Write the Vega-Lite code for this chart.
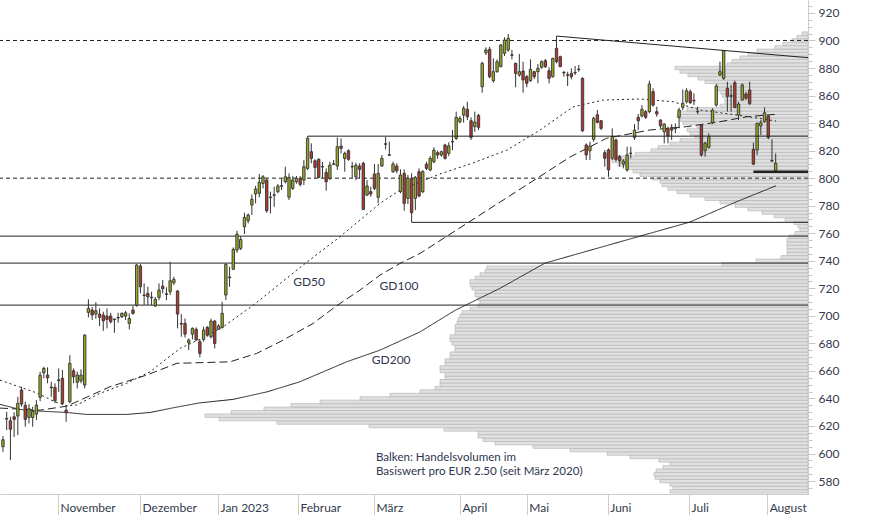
{
"$schema":"https://vega.github.io/schema/vega-lite/v6.json",
"width":808,"height":494,
"autosize":{"type":"none"},
"padding":{"left":0,"top":0,"right":66,"bottom":21},
"background":"white",
"config":{"view":{"stroke":null},"scale":{"continuousPadding":0},"axis":{"labelFont":"Lato","labelFontSize":12,"labelColor":"#333a4d","grid":false,"title":null}},
"datasets":{
"vol":[
{"p":572.5,"vol":138},{"p":575,"vol":135},{"p":577.5,"vol":138},{"p":580,"vol":148},{"p":582.5,"vol":153},{"p":585,"vol":154},{"p":587.5,"vol":152},{"p":590,"vol":145},{"p":592.5,"vol":138},{"p":595,"vol":149},{"p":597.5,"vol":178},{"p":600,"vol":201},{"p":602.5,"vol":238},{"p":605,"vol":275},{"p":607.5,"vol":313},{"p":610,"vol":325},{"p":612.5,"vol":330},{"p":615,"vol":330},{"p":617.5,"vol":364},{"p":620,"vol":439},{"p":622.5,"vol":531},{"p":625,"vol":589},{"p":627.5,"vol":603},{"p":630,"vol":577},{"p":632.5,"vol":544},{"p":635,"vol":517},{"p":637.5,"vol":488},{"p":640,"vol":448},{"p":642.5,"vol":418},{"p":645,"vol":388},{"p":647.5,"vol":373},{"p":650,"vol":368},{"p":652.5,"vol":368},{"p":655,"vol":363},{"p":657.5,"vol":363},{"p":660,"vol":368},{"p":662.5,"vol":368},{"p":665,"vol":363},{"p":667.5,"vol":363},{"p":670,"vol":358},{"p":672.5,"vol":358},{"p":675,"vol":353},{"p":677.5,"vol":353},{"p":680,"vol":356},{"p":682.5,"vol":358},{"p":685,"vol":358},{"p":687.5,"vol":353},{"p":690,"vol":353},{"p":692.5,"vol":353},{"p":695,"vol":351},{"p":697.5,"vol":350},{"p":700,"vol":348},{"p":702.5,"vol":346},{"p":705,"vol":338},{"p":707.5,"vol":330},{"p":710,"vol":328},{"p":712.5,"vol":330},{"p":715,"vol":333},{"p":717.5,"vol":333},{"p":720,"vol":336},{"p":722.5,"vol":338},{"p":725,"vol":338},{"p":727.5,"vol":333},{"p":730,"vol":328},{"p":732.5,"vol":323},{"p":735,"vol":321},{"p":737.5,"vol":86},{"p":740,"vol":52},{"p":742.5,"vol":27},{"p":745,"vol":21},{"p":747.5,"vol":21},{"p":750,"vol":21},{"p":752.5,"vol":21},{"p":755,"vol":21},{"p":757.5,"vol":19},{"p":760,"vol":13},{"p":762.5,"vol":8},{"p":765,"vol":10},{"p":767.5,"vol":14},{"p":770,"vol":23},{"p":772.5,"vol":34},{"p":775,"vol":46},{"p":777.5,"vol":60},{"p":780,"vol":73},{"p":782.5,"vol":88},{"p":785,"vol":103},{"p":787.5,"vol":118},{"p":790,"vol":131},{"p":792.5,"vol":140},{"p":795,"vol":146},{"p":797.5,"vol":148},{"p":800,"vol":156},{"p":802.5,"vol":168},{"p":805,"vol":175},{"p":807.5,"vol":181},{"p":810,"vol":190},{"p":812.5,"vol":196},{"p":815,"vol":192},{"p":817.5,"vol":173},{"p":820,"vol":157},{"p":822.5,"vol":150},{"p":825,"vol":138},{"p":827.5,"vol":128},{"p":830,"vol":113},{"p":832.5,"vol":118},{"p":835,"vol":121},{"p":837.5,"vol":111},{"p":840,"vol":125},{"p":842.5,"vol":128},{"p":845,"vol":131},{"p":847.5,"vol":128},{"p":850,"vol":121},{"p":852.5,"vol":88},{"p":855,"vol":83},{"p":857.5,"vol":83},{"p":860,"vol":86},{"p":862.5,"vol":88},{"p":865,"vol":90},{"p":867.5,"vol":91},{"p":870,"vol":103},{"p":872.5,"vol":110},{"p":875,"vol":120},{"p":877.5,"vol":128},{"p":880,"vol":133},{"p":882.5,"vol":81},{"p":885,"vol":76},{"p":887.5,"vol":68},{"p":890,"vol":60},{"p":892.5,"vol":51},{"p":895,"vol":33},{"p":897.5,"vol":25},{"p":900,"vol":16},{"p":902.5,"vol":11},{"p":905,"vol":6}
],
"candles":[
{"i":-15,"o":605,"h":612.6,"l":601.2,"c":610},{"i":-14,"o":625,"h":630.3,"l":617,"c":625.5},{"i":-13,"o":623.8,"h":626.7,"l":595.2,"c":617.6},{"i":-12,"o":626.7,"h":630,"l":612,"c":624.8},{"i":-11,"o":627.2,"h":641.2,"l":613.4,"c":636.4},{"i":-10,"o":646.1,"h":648.5,"l":634,"c":635.9},{"i":-9,"o":635,"h":637.6,"l":619.4,"c":624.8},{"i":-8,"o":626.2,"h":635.9,"l":621.9,"c":632.5},{"i":-7,"o":626.2,"h":634,"l":619.4,"c":630.6},{"i":-6,"o":628.6,"h":638.8,"l":624.3,"c":635.2},{"i":-5,"o":640.8,"h":659.4,"l":638,"c":656.9},{"i":-4,"o":658.6,"h":663,"l":654.6,"c":661.8},{"i":-3,"o":657,"h":662.6,"l":651,"c":655},{"i":-2,"o":648.3,"h":652.1,"l":641.2,"c":647.8},{"i":-1,"o":648,"h":651,"l":636.6,"c":638.3},{"i":0,"o":653.5,"h":661.8,"l":644.8,"c":653},{"i":1,"o":654.6,"h":660.6,"l":635.2,"c":636.4},{"i":2,"o":631.5,"h":634,"l":623,"c":629.6},{"i":3,"o":637.6,"h":671.5,"l":636.4,"c":665.5},{"i":4,"o":660.1,"h":661.8,"l":651,"c":655.7},{"i":5,"o":651.7,"h":659.4,"l":647.3,"c":657},{"i":6,"o":652.8,"h":661.1,"l":651,"c":657},{"i":7,"o":649.7,"h":686.7,"l":647.3,"c":686},
{"i":8,"o":702.5,"h":712,"l":698.9,"c":705.4},{"i":9,"o":704.2,"h":706.6,"l":696.9,"c":700.6},{"i":10,"o":701.3,"h":710,"l":697.9,"c":703.7},{"i":11,"o":701.3,"h":705.4,"l":692.6,"c":698.9},{"i":12,"o":700.6,"h":703,"l":689.1,"c":696.4},{"i":13,"o":699.8,"h":705.4,"l":690.9,"c":697.4},{"i":14,"o":699.8,"h":702.2,"l":694.5,"c":695.7},{"i":15,"o":697.7,"h":697.9,"l":687.7,"c":697.2},{"i":16,"o":698.8,"h":702.2,"l":695,"c":698.4},{"i":17,"o":699.3,"h":702.5,"l":698.5,"c":701.8},{"i":18,"o":699.8,"h":703.5,"l":697,"c":702.2},{"i":19,"o":694.5,"h":701.8,"l":690.2,"c":698.1},{"i":20,"o":704.2,"h":707.1,"l":700.8,"c":701.8},{"i":21,"o":707.8,"h":737.6,"l":706.6,"c":736.9},{"i":22,"o":736.2,"h":737.6,"l":716.3,"c":721.1},{"i":23,"o":715.2,"h":723.6,"l":707.8,"c":714.8},{"i":24,"o":716.3,"h":721.1,"l":707.8,"c":713.8},{"i":25,"o":713.6,"h":717.5,"l":707.8,"c":713.2},{"i":26,"o":707.1,"h":713.8,"l":706.6,"c":712},{"i":27,"o":713.4,"h":723.6,"l":711.4,"c":718.7},{"i":28,"o":721.6,"h":726,"l":716.3,"c":719.7},{"i":29,"o":716,"h":720.7,"l":711.4,"c":715.6},{"i":30,"o":717.5,"h":739.3,"l":715.1,"c":725.5},{"i":31,"o":724,"h":728.4,"l":722.3,"c":726.5},{"i":32,"o":718,"h":718.7,"l":690.9,"c":701.3},{"i":33,"o":694.4,"h":701.3,"l":684.8,"c":694},{"i":34,"o":694.5,"h":698.1,"l":684.3,"c":686.7},{"i":35,"o":680.4,"h":683.6,"l":675.1,"c":682.4},{"i":36,"o":686.7,"h":691.6,"l":682.9,"c":690.9},{"i":37,"o":690.2,"h":691.6,"l":681.9,"c":682.4},{"i":38,"o":681.2,"h":682.9,"l":669.8,"c":672.7},{"i":39,"o":682.9,"h":692.1,"l":681.2,"c":689.7},{"i":40,"o":691.6,"h":692.6,"l":684.8,"c":686},{"i":41,"o":684.8,"h":697.9,"l":683.6,"c":696.2},{"i":42,"o":696.2,"h":696.9,"l":676.4,"c":680},{"i":43,"o":690.2,"h":694,"l":689.7,"c":692.6},{"i":44,"o":691.6,"h":710.2,"l":690.9,"c":701.8},{"i":45,"o":715.1,"h":738.1,"l":711.4,"c":737.4},{"i":46,"o":728.2,"h":735.6,"l":721.1,"c":727.7},{"i":47,"o":733.8,"h":749.7,"l":733.3,"c":748.3},{"i":48,"o":747.8,"h":761.8,"l":745.8,"c":759.4},{"i":49,"o":749,"h":757.9,"l":747.8,"c":755.5},{"i":50,"o":764.7,"h":774.9,"l":759.4,"c":771.5},
{"i":51,"o":769.1,"h":774.4,"l":767.2,"c":773.2},{"i":52,"o":780.5,"h":788.2,"l":773.2,"c":784.6},{"i":53,"o":788.5,"h":794.3,"l":781.7,"c":792.1},{"i":54,"o":789,"h":803,"l":786.1,"c":797},{"i":55,"o":796.2,"h":802.3,"l":792.6,"c":801},{"i":56,"o":798.6,"h":799.9,"l":774.9,"c":776.3},{"i":57,"o":786.3,"h":790.2,"l":774.4,"c":785.9},{"i":58,"o":787.9,"h":793.8,"l":779.2,"c":787.5},{"i":59,"o":790.2,"h":795.7,"l":789,"c":794.3},{"i":60,"o":794.5,"h":799.9,"l":791.4,"c":794.1},{"i":61,"o":797.4,"h":808.3,"l":796.2,"c":801},{"i":62,"o":786.1,"h":803.5,"l":784.1,"c":800.6},{"i":63,"o":792.6,"h":801.5,"l":791.4,"c":798.6},{"i":64,"o":797.4,"h":801.5,"l":796,"c":799.9},{"i":65,"o":799.9,"h":801.5,"l":794,"c":795.5},{"i":66,"o":798.6,"h":813.2,"l":795,"c":808.3},{"i":67,"o":807.1,"h":830.5,"l":805.9,"c":828.9},{"i":68,"o":819.2,"h":825.3,"l":810.8,"c":814.4},{"i":69,"o":812.6,"h":813.7,"l":799.9,"c":807.8},{"i":70,"o":813.7,"h":814.4,"l":799.9,"c":800.6},{"i":71,"o":808.5,"h":811.9,"l":799.9,"c":808.1},{"i":72,"o":804.2,"h":807.1,"l":790.9,"c":797.4},{"i":73,"o":799.9,"h":811.9,"l":798.6,"c":809.5},{"i":74,"o":810.4,"h":813.2,"l":809.5,"c":810},{"i":75,"o":808.8,"h":829.6,"l":805.9,"c":822.8},{"i":76,"o":823.3,"h":828.9,"l":818,"c":821.6},{"i":77,"o":814.4,"h":819.2,"l":804.7,"c":818},{"i":78,"o":819.9,"h":820.9,"l":812.6,"c":813.7},{"i":79,"o":808.5,"h":811.9,"l":799.9,"c":808.1},{"i":80,"o":801,"h":811.2,"l":798.6,"c":809.5},{"i":81,"o":808.8,"h":810.8,"l":799.9,"c":806.4},{"i":82,"o":810.8,"h":811.9,"l":776.8,"c":777.3},{"i":83,"o":787.7,"h":798.6,"l":787,"c":794.3},{"i":84,"o":790.2,"h":793.8,"l":786.5,"c":788.5},{"i":85,"o":803,"h":810.2,"l":791.4,"c":792.6},{"i":86,"o":786.1,"h":810.2,"l":781.7,"c":803.5},{"i":87,"o":808.8,"h":816.8,"l":808.3,"c":814.4},{"i":88,"o":825,"h":830.1,"l":820.9,"c":824.6},{"i":89,"o":817,"h":826.5,"l":816.1,"c":816.6},{"i":90,"o":804.7,"h":811.9,"l":803.9,"c":810.2},{"i":91,"o":808.8,"h":810.8,"l":803.5,"c":805.4},{"i":92,"o":790.2,"h":806.4,"l":789,"c":802.3},{"i":93,"o":803.5,"h":806.4,"l":776.3,"c":781.7},{"i":94,"o":785.3,"h":802.3,"l":781.2,"c":799.9},{"i":95,"o":799.9,"h":803.5,"l":768,"c":774.9},{"i":96,"o":785.3,"h":801.5,"l":776.8,"c":800.6},{"i":97,"o":804.7,"h":807.1,"l":786.1,"c":787},{"i":98,"o":790.2,"h":805.9,"l":789,"c":804.7},{"i":99,"o":810.2,"h":811.9,"l":805.9,"c":807.1},{"i":100,"o":805.9,"h":816,"l":805,"c":814.4},
{"i":101,"o":811.9,"h":822.4,"l":810.8,"c":820.4},{"i":102,"o":818.5,"h":820,"l":814,"c":816.8},{"i":103,"o":816.8,"h":820,"l":815.5,"c":819.2},{"i":104,"o":824.1,"h":825,"l":813.5,"c":814.4},{"i":105,"o":818,"h":826,"l":816,"c":823.5},{"i":106,"o":826.7,"h":835,"l":820.4,"c":826.3},{"i":107,"o":828.9,"h":848.3,"l":827.7,"c":844.2},{"i":108,"o":841,"h":845.1,"l":839.8,"c":843.5},{"i":109,"o":845.8,"h":852.4,"l":840.3,"c":850.7},{"i":110,"o":850,"h":855.5,"l":842.2,"c":844.6},{"i":111,"o":841.7,"h":844.2,"l":827.7,"c":829.6},{"i":112,"o":837.4,"h":848.3,"l":833.7,"c":840.8},{"i":113,"o":845.6,"h":846.6,"l":834.9,"c":836.9},{"i":114,"o":866.4,"h":884.6,"l":862.1,"c":883.4},{"i":115,"o":891.1,"h":895,"l":889.4,"c":893.1},{"i":116,"o":893.6,"h":895.5,"l":872.5,"c":873.7},{"i":117,"o":870.8,"h":887,"l":869.3,"c":877.3},{"i":118,"o":877.3,"h":886.3,"l":876.6,"c":884.6},{"i":119,"o":881,"h":897.4,"l":880.5,"c":896.7},{"i":120,"o":890.7,"h":902.3,"l":888.7,"c":900.3},{"i":121,"o":893.1,"h":904.7,"l":891.8,"c":901.6},{"i":122,"o":889.6,"h":893.1,"l":886.3,"c":889.2},{"i":123,"o":883.4,"h":883.9,"l":866,"c":876.1},{"i":124,"o":874.9,"h":890.2,"l":873.7,"c":877.3},{"i":125,"o":877.8,"h":884.6,"l":862.1,"c":871.3},{"i":126,"o":873.7,"h":874.9,"l":866,"c":868.9},{"i":127,"o":870.8,"h":886.3,"l":870,"c":879},{"i":128,"o":877.3,"h":878,"l":872,"c":873.7},{"i":129,"o":877.3,"h":882.9,"l":868.9,"c":879.8},{"i":130,"o":880.5,"h":885.5,"l":879.5,"c":884.6},{"i":131,"o":885.3,"h":886.5,"l":880,"c":881},{"i":132,"o":878,"h":880.5,"l":868.9,"c":872.5},{"i":133,"o":873.7,"h":887.5,"l":873,"c":887},{"i":134,"o":894.3,"h":903.2,"l":883.4,"c":884.6},{"i":135,"o":888.2,"h":889,"l":880.5,"c":881},{"i":136,"o":876.8,"h":878,"l":873.7,"c":876.4},{"i":137,"o":875.1,"h":877.3,"l":866.9,"c":874.7},{"i":138,"o":876.1,"h":879.8,"l":871.8,"c":873.7},{"i":139,"o":876.8,"h":881.5,"l":874.9,"c":876.4},{"i":140,"o":879.2,"h":882.2,"l":877.3,"c":878.8},{"i":141,"o":872.5,"h":873.2,"l":833.7,"c":834.4},{"i":142,"o":824.1,"h":825.3,"l":813.2,"c":816.8},{"i":143,"o":819.9,"h":826.5,"l":813.2,"c":823.3},{"i":144,"o":828.2,"h":844.6,"l":826.5,"c":843.5},{"i":145,"o":846,"h":849.5,"l":839.8,"c":840.5},{"i":146,"o":841.7,"h":842.2,"l":834.9,"c":836.2},{"i":147,"o":818.5,"h":820.4,"l":808.3,"c":814.4},{"i":148,"o":820.5,"h":821.6,"l":801,"c":806},{"i":149,"o":814.4,"h":836.2,"l":813.2,"c":830.1},{"i":150,"o":827.7,"h":828.9,"l":811.9,"c":813.7},
{"i":151,"o":815.6,"h":816.8,"l":808.3,"c":812.6},{"i":152,"o":810.2,"h":813.7,"l":807.1,"c":812.4},{"i":153,"o":805.9,"h":822.8,"l":804.7,"c":817},{"i":154,"o":818.2,"h":822.8,"l":814.4,"c":818},{"i":155,"o":829.6,"h":839.3,"l":827.7,"c":834.9},{"i":156,"o":844.2,"h":846.6,"l":834.9,"c":841.7},{"i":157,"o":845.1,"h":853.1,"l":844.2,"c":850},{"i":158,"o":848.3,"h":849.5,"l":843,"c":844.2},{"i":159,"o":848.3,"h":870.8,"l":847.1,"c":868.4},{"i":160,"o":862.8,"h":865.3,"l":851.9,"c":853.1},{"i":161,"o":848.3,"h":851.9,"l":844.6,"c":846.6},{"i":162,"o":842.2,"h":842.7,"l":836.2,"c":837.9},{"i":163,"o":833.7,"h":839.8,"l":825.3,"c":839.3},{"i":164,"o":836.2,"h":837.4,"l":825.3,"c":830.6},{"i":165,"o":836.9,"h":839.3,"l":827.7,"c":834.9},{"i":166,"o":836.4,"h":839.8,"l":832.6,"c":836},{"i":167,"o":844.2,"h":851.2,"l":836.2,"c":849.5},{"i":168,"o":851.4,"h":864.5,"l":849.5,"c":854.3},{"i":169,"o":855.5,"h":865.3,"l":854.3,"c":863.5},{"i":170,"o":862.8,"h":864.5,"l":853.8,"c":854.8},{"i":171,"o":856.5,"h":861.6,"l":853.1,"c":856.1},{"i":172,"o":848.5,"h":851.9,"l":846.6,"c":848.1},{"i":173,"o":838.6,"h":839.3,"l":815.6,"c":816.8},{"i":174,"o":819.9,"h":826.5,"l":815.6,"c":825.3},{"i":175,"o":822.4,"h":832.6,"l":821.6,"c":830.1},{"i":176,"o":840.3,"h":850.7,"l":839.3,"c":849.5},{"i":177,"o":853.1,"h":868.4,"l":851.9,"c":866.9},{"i":178,"o":874.9,"h":884.6,"l":874.2,"c":877.3},{"i":179,"o":872.5,"h":893.1,"l":871.3,"c":892.6},{"i":180,"o":865.3,"h":870,"l":848.3,"c":859.4},{"i":181,"o":859.9,"h":867.7,"l":848.3,"c":859.5},{"i":182,"o":869.3,"h":870.8,"l":850.7,"c":851.4},{"i":183,"o":845.8,"h":855.5,"l":842.2,"c":853.8},{"i":184,"o":856.8,"h":868.9,"l":856.3,"c":867.7},{"i":185,"o":861.1,"h":862.8,"l":856.8,"c":858},{"i":186,"o":864,"h":870,"l":853.1,"c":854.3},{"i":187,"o":820.9,"h":825.7,"l":809.5,"c":810.2},{"i":188,"o":820.4,"h":840.3,"l":816.8,"c":839.8},{"i":189,"o":837.9,"h":842.2,"l":831.3,"c":840.3},{"i":190,"o":841,"h":851.4,"l":840.3,"c":847.5},{"i":191,"o":845.1,"h":845.8,"l":828.2,"c":829.6},{"i":192,"o":812.8,"h":828.2,"l":811.9,"c":812.4},{"i":193,"o":805.4,"h":818,"l":804.7,"c":810.8}
],
"ma":[
{"k":"GD50","i":-15.8,"v":653.3},{"k":"GD50","i":-5.8,"v":643.9},{"k":"GD50","i":-1,"v":637.5},{"k":"GD50","i":2.2,"v":634.8},{"k":"GD50","i":4.8,"v":635.2},{"k":"GD50","i":11.1,"v":643.7},{"k":"GD50","i":18.3,"v":651},{"k":"GD50","i":24.6,"v":659.4},{"k":"GD50","i":28.2,"v":667},{"k":"GD50","i":32.7,"v":676.4},{"k":"GD50","i":38,"v":683},{"k":"GD50","i":44.3,"v":692.1},{"k":"GD50","i":52.4,"v":707.8},{"k":"GD50","i":65.8,"v":736.9},{"k":"GD50","i":75.7,"v":757.4},{"k":"GD50","i":86.5,"v":781.7},{"k":"GD50","i":91.9,"v":791.4},{"k":"GD50","i":102.6,"v":803},{"k":"GD50","i":111.5,"v":811},{"k":"GD50","i":120.7,"v":820.4},{"k":"GD50","i":129.6,"v":835},{"k":"GD50","i":138.4,"v":851.7},{"k":"GD50","i":146.5,"v":856.7},{"k":"GD50","i":156.5,"v":857.5},{"k":"GD50","i":165.4,"v":855.5},{"k":"GD50","i":172.6,"v":849.5},{"k":"GD50","i":183.4,"v":845.5},{"k":"GD50","i":193.1,"v":841.5},
{"k":"GD100","i":-15.8,"v":633},{"k":"GD100","i":-5,"v":631.5},{"k":"GD100","i":2.2,"v":634.4},{"k":"GD100","i":13.8,"v":648.5},{"k":"GD100","i":23.7,"v":657},{"k":"GD100","i":31.8,"v":665.5},{"k":"GD100","i":46.1,"v":666.6},{"k":"GD100","i":53.3,"v":672.7},{"k":"GD100","i":59.6,"v":681.2},{"k":"GD100","i":68.5,"v":694.5},{"k":"GD100","i":74.8,"v":707.3},{"k":"GD100","i":81.1,"v":718.7},{"k":"GD100","i":86.5,"v":729.6},{"k":"GD100","i":91.9,"v":738.1},{"k":"GD100","i":97.3,"v":745.4},{"k":"GD100","i":119.6,"v":784},{"k":"GD100","i":137.6,"v":815.3},{"k":"GD100","i":147.5,"v":829},{"k":"GD100","i":159.2,"v":835},{"k":"GD100","i":169,"v":837.4},{"k":"GD100","i":178,"v":841},{"k":"GD100","i":185.2,"v":844.6},{"k":"GD100","i":193.1,"v":846.4},
{"k":"GD200","i":-15.8,"v":635.7},{"k":"GD200","i":-10.4,"v":632},{"k":"GD200","i":-5,"v":630.8},{"k":"GD200","i":2.2,"v":629.8},{"k":"GD200","i":7.5,"v":628.4},{"k":"GD200","i":18.3,"v":628.4},{"k":"GD200","i":24.6,"v":629.8},{"k":"GD200","i":30.8,"v":633.2},{"k":"GD200","i":38,"v":636.8},{"k":"GD200","i":46.9,"v":639.3},{"k":"GD200","i":56.1,"v":644.8},{"k":"GD200","i":64.9,"v":652.1},{"k":"GD200","i":77.5,"v":666.6},{"k":"GD200","i":86.5,"v":675.1},{"k":"GD200","i":97.3,"v":688.4},{"k":"GD200","i":106.7,"v":704},{"k":"GD200","i":118.8,"v":720},{"k":"GD200","i":130.9,"v":738.3},{"k":"GD200","i":156.5,"v":757.9},{"k":"GD200","i":169.9,"v":768.1},{"k":"GD200","i":182.5,"v":782.9},{"k":"GD200","i":193.1,"v":794.5}
],
"segs":[{"a":67,"b":201.7,"y":830.5,"y2":830.5},{"a":95,"b":201.7,"y":767.9,"y2":767.9},{"a":134,"b":201.7,"y":903.2,"y2":887.5}],
"bold":[{"a":187,"b":201.7,"y":804.7}],
"levels":[{"y":757.9},{"y":738.3},{"y":707.8}],
"dlevels":[{"y":900},{"y":800}],
"labels":[{"t":"GD50","i":67.4,"v":724.5},{"t":"GD100","i":91.6,"v":721.6},{"t":"GD200","i":89.5,"v":667.9}],
"note":[{"t":["Balken: Handelsvolumen im","Basiswert pro EUR 2.50 (seit März 2020)"],"i":85.4,"v":596.4}]
},
"layer":[
{
"data":{"name":"vol"},
"mark":{"type":"bar","orient":"horizontal","height":3.44,"fill":"#e0e0e0","stroke":"#b8b8b8","strokeWidth":0.7,"clip":true},
"encoding":{
"x":{"field":"vol","type":"quantitative","scale":{"domain":[0,808],"reverse":true,"nice":false,"zero":true,"padding":0},"axis":null},
"y":{"field":"p","type":"quantitative","scale":{"domain":[570.6,929.4],"nice":false,"zero":false,"padding":0},
"axis":{"orient":"right","values":[575,585,590,595,605,610,615,625,630,635,645,650,655,665,670,675,685,690,695,705,710,715,725,730,735,745,750,755,765,770,775,785,790,795,805,810,815,825,830,835,845,850,855,865,870,875,885,890,895,905,910,915,925],"labels":false,"tickSize":4,"tickColor":"#c8c8c8","domainColor":"#cccccc"}}
}
},
{"data":{"name":"levels"},"mark":{"type":"rule","color":"#222222","strokeWidth":1},
"encoding":{"y":{"field":"y","type":"quantitative","scale":{"domain":[570.6,929.4],"nice":false,"zero":false,"padding":0},"axis":null}}},
{"data":{"name":"dlevels"},"mark":{"type":"rule","color":"#222222","strokeWidth":1,"strokeDash":[4,3]},
"encoding":{"y":{"field":"y","type":"quantitative","scale":{"domain":[570.6,929.4],"nice":false,"zero":false,"padding":0},"axis":null}}},
{"data":{"name":"ma"},"mark":{"type":"line","color":"#222222","strokeWidth":1,"clip":true},
"encoding":{
"x":{"field":"i","type":"quantitative","scale":{"domain":[-15.8,201.7],"nice":false,"zero":false,"padding":0},"axis":null},
"y":{"field":"v","type":"quantitative","scale":{"domain":[570.6,929.4],"nice":false,"zero":false,"padding":0},"axis":null},
"detail":{"field":"k"},
"strokeDash":{"field":"k","type":"nominal","scale":{"domain":["GD50","GD100","GD200"],"range":[[2,3],[8,4],[1,0]]},"legend":null}}},
{"data":{"name":"candles"},"mark":{"type":"rule","color":"#333333","strokeWidth":1,"clip":true},
"encoding":{
"x":{"field":"i","type":"quantitative","scale":{"domain":[-15.8,201.7],"nice":false,"zero":false,"padding":0},"axis":null},
"y":{"field":"l","type":"quantitative","scale":{"domain":[570.6,929.4],"nice":false,"zero":false,"padding":0},"axis":null},
"y2":{"field":"h"}}},
{"data":{"name":"candles"},"mark":{"type":"bar","width":2.4,"stroke":"#333333","strokeWidth":0.9,"clip":true},
"encoding":{
"x":{"field":"i","type":"quantitative","scale":{"domain":[-15.8,201.7],"nice":false,"zero":false,"padding":0},
"axis":{"values":[-0.2,21.9,42.9,64.4,84.9,108,126,147.8,169.7,190.7],"labelExpr":"['November','Dezember','Jan 2023','Februar','März','April','Mai','Juni','Juli','August'][indexof([-0.2,21.9,42.9,64.4,84.9,108,126,147.8,169.7,190.7], datum.value)]","tickSize":21,"tickColor":"#cccccc","domainColor":"#cccccc","labelAlign":"left","labelBaseline":"top","labelPadding":-13,"labelOffset":2,"labelOverlap":false,"labelFlush":false,"labelBound":false}},
"y":{"field":"o","type":"quantitative","scale":{"domain":[570.6,929.4],"nice":false,"zero":false,"padding":0},
"axis":{"orient":"right","values":[580,600,620,640,660,680,700,720,740,760,780,800,820,840,860,880,900,920],"tickSize":7,"tickColor":"#c8c8c8","domainColor":"#cccccc","labelPadding":3}},
"y2":{"field":"c"},
"fill":{"condition":{"test":"datum.c >= datum.o","value":"#9bab22"},"value":"#b53a2c"}}},
{"data":{"name":"segs"},"mark":{"type":"rule","color":"#222222","strokeWidth":1,"clip":true},
"encoding":{
"x":{"field":"a","type":"quantitative","scale":{"domain":[-15.8,201.7],"nice":false,"zero":false,"padding":0},"axis":null},
"x2":{"field":"b"},
"y":{"field":"y","type":"quantitative","scale":{"domain":[570.6,929.4],"nice":false,"zero":false,"padding":0},"axis":null},
"y2":{"field":"y2"}}},
{"data":{"name":"bold"},"mark":{"type":"rule","color":"#222222","strokeWidth":2.5,"clip":true},
"encoding":{
"x":{"field":"a","type":"quantitative","scale":{"domain":[-15.8,201.7],"nice":false,"zero":false,"padding":0},"axis":null},
"x2":{"field":"b"},
"y":{"field":"y","type":"quantitative","scale":{"domain":[570.6,929.4],"nice":false,"zero":false,"padding":0},"axis":null}}},
{"data":{"name":"labels"},"mark":{"type":"text","font":"Lato","fontSize":12,"color":"#2f3650","align":"center","baseline":"middle"},
"encoding":{
"x":{"field":"i","type":"quantitative","scale":{"domain":[-15.8,201.7],"nice":false,"zero":false,"padding":0},"axis":null},
"y":{"field":"v","type":"quantitative","scale":{"domain":[570.6,929.4],"nice":false,"zero":false,"padding":0},"axis":null},
"text":{"field":"t"}}},
{"data":{"name":"note"},"mark":{"type":"text","font":"Lato","fontSize":11.6,"color":"#2f3650","align":"left","baseline":"middle","lineHeight":14},
"encoding":{
"x":{"field":"i","type":"quantitative","scale":{"domain":[-15.8,201.7],"nice":false,"zero":false,"padding":0},"axis":null},
"y":{"field":"v","type":"quantitative","scale":{"domain":[570.6,929.4],"nice":false,"zero":false,"padding":0},"axis":null},
"text":{"field":"t"}}}
],
"resolve":{"scale":{"x":"independent"},"axis":{"y":"independent"}}
}
